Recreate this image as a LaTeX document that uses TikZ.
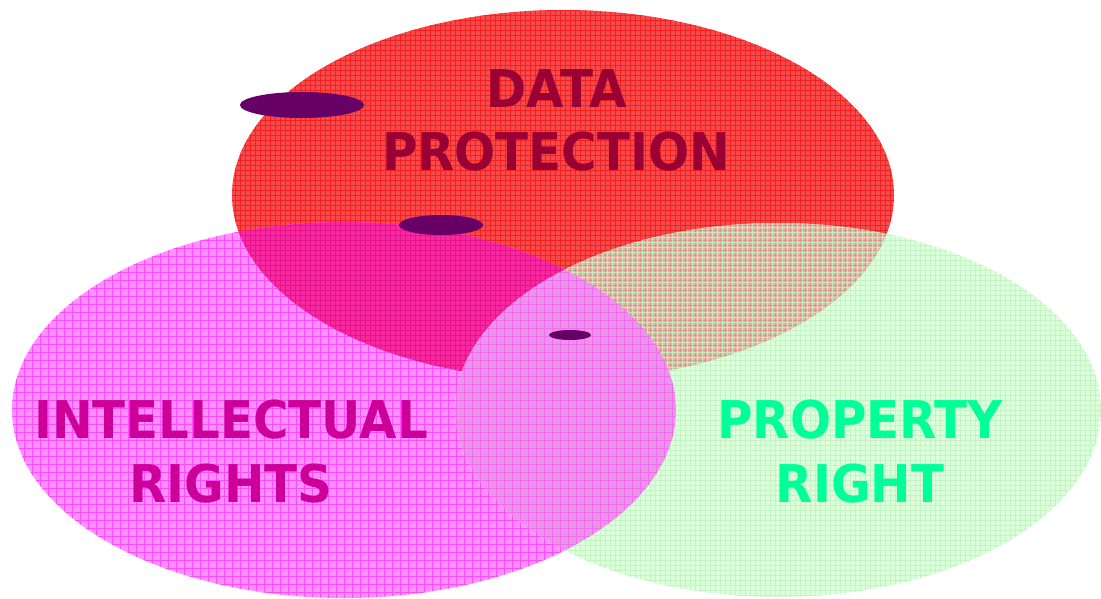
\documentclass[tikz,border=0pt]{standalone}
\usepackage{fontspec}
\newfontfamily\lbl[FakeStretch=0.93]{DejaVu Sans Bold}
\definecolor{redc}{HTML}{F44C4C}
\definecolor{redline}{HTML}{FF0000}
\definecolor{magc}{HTML}{FF90FF}
\definecolor{magline}{HTML}{FF33FF}
\definecolor{greenc}{HTML}{DCFFDC}
\definecolor{greenline}{HTML}{C4F4C4}
\definecolor{rmc}{HTML}{F42AA0}
\definecolor{rmline}{HTML}{E8007E}
\definecolor{rgc}{HTML}{DEBAA8}
\definecolor{rgline}{HTML}{E07070}
\definecolor{mgc}{HTML}{EC94EA}
\definecolor{dotc}{HTML}{660066}
\definecolor{dpc}{HTML}{990033}
\definecolor{irc}{HTML}{CC0099}
\definecolor{prc}{HTML}{00FF99}
\tikzset{
  lbltext/.style={anchor=base, inner sep=0pt, font=\lbl\fontsize{52}{64}\selectfont},
  dot/.style={fill=dotc, draw=none}
}
\begin{document}
\begin{tikzpicture}[x=1pt,y=-1pt,even odd rule]
\useasboundingbox (0,0) rectangle (1101,598);
\def\redE{(563,195) ellipse [x radius=331, y radius=185]}
\def\magE{(344,410) ellipse [x radius=332, y radius=188]}
\def\grnE{(778,410) ellipse [x radius=323, y radius=187]}
\def\bigR{(-10,-10) rectangle (1111,608)}
% base fills
\fill[redc] \redE;
\fill[magc] \magE;
\fill[greenc] \grnE;
\begin{scope}\clip \redE; \fill[rmc] \magE; \end{scope}
\begin{scope}\clip \redE; \fill[rgc] \grnE; \end{scope}
\begin{scope}\clip \magE; \fill[mgc] \grnE; \end{scope}
% textures
\begin{scope}
  \clip \bigR \magE;
  \clip \bigR \grnE;
  \clip \redE;
  \draw[redline, line width=0.8pt, opacity=0.6] (0,0) grid[step=5pt] (1101,598);
\end{scope}
\begin{scope}
  \clip \bigR \grnE;
  \clip \redE; \clip \magE;
  \draw[rmline, line width=0.8pt, opacity=0.6] (0,0) grid[step=5pt] (1101,598);
\end{scope}
\begin{scope}
  \clip \bigR \redE;
  \clip \bigR \grnE;
  \clip \magE;
  \draw[magline, line width=0.8pt, opacity=0.75] (0,0) grid[step=8pt] (1101,598);
\end{scope}
\begin{scope}
  \clip \magE; \clip \grnE;
  \draw[magline, line width=0.7pt, opacity=0.4] (0,0) grid[step=8pt] (1101,598);
\end{scope}
\begin{scope}
  \clip \bigR \magE;
  \clip \bigR \redE;
  \clip \grnE;
  \draw[greenline, line width=0.7pt] (0,0) grid[step=5pt] (1101,598);
\end{scope}
\begin{scope}
  \clip \bigR \magE;
  \clip \redE; \clip \grnE;
  \draw[rgline, line width=0.6pt, opacity=0.5] (0,0) grid[step=5pt] (1101,598);
  \draw[greenline, line width=0.6pt, opacity=0.8, shift={(2.5,2.5)}] (0,0) grid[step=5pt] (1101,598);
\end{scope}
% small ellipses
\fill[dot] (302,105) ellipse [x radius=62, y radius=13];
\fill[dot] (441,225) ellipse [x radius=42, y radius=10];
\fill[dot] (570,335) ellipse [x radius=21, y radius=5];
% labels
\node[lbltext, text=dpc] (dp1) at (557,107) {DATA};
\node[lbltext, text=dpc] (dp2) at (556,170) {PROTECTION};
\node[lbltext, text=irc] (ir1) at (231,438) {INTELLECTUAL};
\node[lbltext, text=irc] (ir2) at (231,502) {RIGHTS};
\node[lbltext, text=prc] (pr1) at (860,438) {PROPERTY};
\node[lbltext, text=prc] (pr2) at (860,502) {RIGHT};
\end{tikzpicture}
\end{document}
